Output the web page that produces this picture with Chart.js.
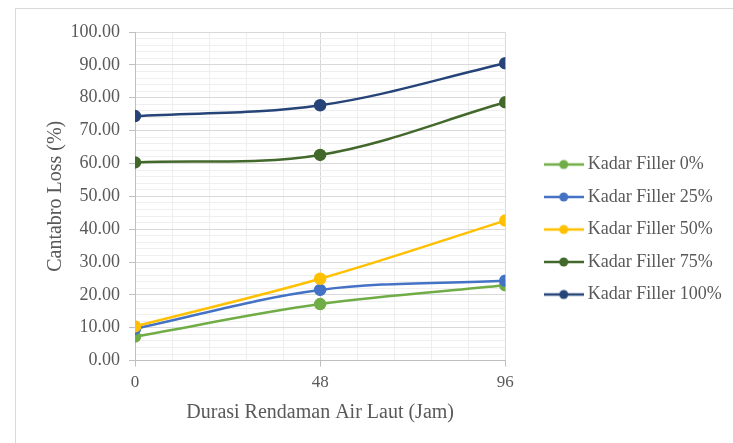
<!DOCTYPE html>
<html>
<head>
<meta charset="utf-8">
<script src="https://cdn.jsdelivr.net/npm/chart.js@4"></script>
<style>
  html, body { margin: 0; padding: 0; background: #fff; }
  #wrap { position: relative; width: 733px; height: 443px; overflow: hidden; }
  #frame { position: absolute; left: 15px; top: 8px; width: 800px; height: 500px; border: 1px solid #d9d9d9; }
  canvas { position: absolute; left: 0; top: 0; }
</style>
</head>
<body>
<div id="wrap">
  <div id="frame"></div>
  <canvas id="grafico" width="733" height="443"></canvas>
</div>
<script>
// Datos
const durasi = [0, 48, 96];
const filler0 = [7.3, 17.2, 22.9];
const filler25 = [9.7, 21.5, 24.3];
const filler50 = [10.4, 24.9, 42.6];
const filler75 = [60.3, 62.6, 78.6];
const filler100 = [74.4, 77.7, 90.5];
const seriesNames = ['Kadar Filler 0%', 'Kadar Filler 25%', 'Kadar Filler 50%', 'Kadar Filler 75%', 'Kadar Filler 100%'];
const seriesColors = ['#70AD47', '#4472C4', '#FFC000', '#43682B', '#264478'];
const seriesData = [filler0, filler25, filler50, filler75, filler100];

const fontSerif = '"Liberation Serif", "Times New Roman", serif';
const textColor = '#595959';

// Marcador de leyenda: línea con punto
function legendMarker(color) {
    const c = document.createElement('canvas');
    c.width = 40; c.height = 12;
    const ctx = c.getContext('2d');
    ctx.strokeStyle = color; ctx.lineWidth = 2.5;
    ctx.beginPath(); ctx.moveTo(0, 6); ctx.lineTo(40, 6); ctx.stroke();
    ctx.fillStyle = color;
    ctx.beginPath(); ctx.arc(20, 6, 4.5, 0, Math.PI * 2); ctx.fill();
    return c;
}

// Mover la leyenda a su sitio
const legendShift = {
    id: 'legendShift',
    afterLayout(chart) {
        const l = chart.legend;
        l.left += 29; l.right = chart.width;
        l.top += 1; l.bottom += 1;
    }
};

const datasets = seriesData.map((vals, i) => ({
    label: seriesNames[i],
    data: durasi.map((x, j) => ({ x: x, y: vals[j] })),
    borderColor: seriesColors[i],
    backgroundColor: seriesColors[i],
    borderWidth: 2.5,
    pointRadius: 5,
    pointHoverRadius: 5,
    tension: 0.35,
    order: seriesData.length - i
}));

new Chart(document.getElementById('grafico'), {
    type: 'line',
    data: { datasets: datasets },
    plugins: [legendShift],
    options: {
        responsive: false,
        animation: false,
        layout: { padding: { left: 44, right: 74, top: 32, bottom: 18 } },
        plugins: {
            tooltip: { enabled: false },
            legend: {
                position: 'right',
                labels: {
                    usePointStyle: true,
                    pointStyleWidth: 30,
                    padding: 14.5,
                    color: textColor,
                    font: { family: fontSerif, size: 18 },
                    generateLabels(chart) {
                        return Chart.defaults.plugins.legend.labels.generateLabels(chart)
                            .sort((a, b) => a.datasetIndex - b.datasetIndex)
                            .map(it => Object.assign(it, { pointStyle: legendMarker(seriesColors[it.datasetIndex]) }));
                    }
                }
            }
        },
        scales: {
            x: {
                type: 'linear',
                min: 0, max: 96,
                ticks: {
                    stepSize: 9.6,
                    autoSkip: false,
                    maxRotation: 0,
                    color: textColor,
                    padding: 6,
                    font: { family: fontSerif, size: 17 },
                    callback: (v, i) => (i % 5 === 0 ? v : '')
                },
                grid: {
                    color: ctx => (ctx.index % 5 === 0 ? '#d9d9d9' : '#efefef'),
                    tickColor: ctx => (ctx.index % 5 === 0 ? '#bfbfbf' : 'rgba(0,0,0,0)'),
                    tickLength: 6
                },
                border: { color: '#bfbfbf' },
                title: {
                    display: true,
                    text: 'Durasi Rendaman Air Laut (Jam)',
                    color: textColor,
                    font: { family: fontSerif, size: 20 },
                    padding: { top: 2, bottom: 0 }
                }
            },
            y: {
                min: 0, max: 100,
                afterFit(scale) { scale.width = 91; },
                ticks: {
                    stepSize: 2,
                    autoSkip: false,
                    color: textColor,
                    padding: 9,
                    font: { family: fontSerif, size: 18 },
                    callback: v => (v % 10 === 0 ? v.toFixed(2) : '')
                },
                grid: {
                    color: ctx => (ctx.tick && ctx.tick.value % 10 === 0 ? '#d9d9d9' : '#efefef'),
                    tickColor: ctx => (ctx.tick && ctx.tick.value % 10 === 0 ? '#bfbfbf' : 'rgba(0,0,0,0)'),
                    tickLength: 6
                },
                border: { color: '#bfbfbf' },
                title: {
                    display: true,
                    text: 'Cantabro Loss (%)',
                    color: textColor,
                    font: { family: fontSerif, size: 20 },
                    padding: { top: 0, bottom: 2 }
                }
            }
        }
    }
});
</script>
</body>
</html>
